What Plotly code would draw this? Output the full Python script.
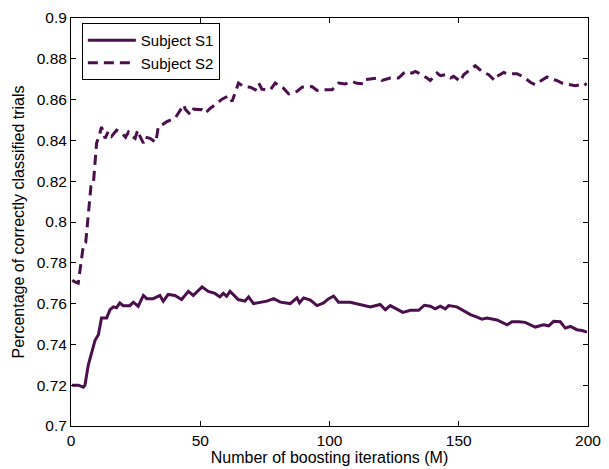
import plotly.graph_objects as go

# Subject S1 (solid)
s1_x = [0.4, 2.8, 4.8, 5.4, 6.7, 8.0, 9.3, 10.6, 11.8, 13.8, 15.1, 16.4, 17.6, 18.9, 20.2, 22.8,
        24.1, 26.0, 28.0, 29.3, 31.8, 34.4, 35.7, 37.6, 40.2, 42.8, 45.4, 47.3, 49.9, 50.7, 53.1,
        55.7, 57.6, 58.9, 60.2, 61.5, 62.8, 64.7, 67.3, 68.7, 70.6, 73.2, 75.8, 78.4, 81.0, 84.8,
        87.4, 88.4, 90.0, 92.6, 95.2, 97.7, 99.7, 101.6, 103.5, 108.0, 111.9, 115.8, 119.6, 121.6,
        123.5, 126.1, 128.4, 131.3, 134.5, 136.7, 139.0, 140.9, 142.9, 144.8, 146.1, 149.3, 151.9,
        154.5, 157.1, 159.0, 160.9, 164.8, 168.7, 170.6, 173.2, 175.7, 179.6, 182.8, 184.8, 186.7,
        189.3, 191.2, 193.2, 195.7, 197.7, 199.6]
s1_y = [0.720, 0.720, 0.719, 0.720, 0.730, 0.7365, 0.742, 0.7447, 0.753, 0.753, 0.757, 0.7584,
        0.758, 0.7603, 0.759, 0.759, 0.7607, 0.7587, 0.764, 0.7624, 0.7624, 0.764, 0.7612, 0.7645,
        0.764, 0.762, 0.766, 0.764, 0.767, 0.7682, 0.766, 0.765, 0.7633, 0.765, 0.7636, 0.766,
        0.7644, 0.762, 0.7612, 0.7633, 0.760, 0.7607, 0.7612, 0.7624, 0.7607, 0.760, 0.7628,
        0.7604, 0.7628, 0.7617, 0.759, 0.7603, 0.7624, 0.7637, 0.7607, 0.7607, 0.7596, 0.7584,
        0.7596, 0.757, 0.759, 0.7574, 0.7557, 0.7567, 0.7567, 0.7592, 0.7587, 0.7574, 0.7587,
        0.7574, 0.759, 0.7584, 0.7567, 0.7546, 0.7534, 0.7524, 0.7529, 0.752, 0.7496, 0.7511,
        0.7511, 0.7508, 0.7485, 0.7496, 0.7491, 0.7513, 0.7511, 0.748, 0.7488, 0.7472, 0.7468,
        0.746]

# Subject S2 (dashed)
s2_x = [0.5, 1.3, 2.8, 3.9, 4.8, 5.7, 6.7, 7.7, 8.6, 9.3, 9.9, 11.2, 11.8, 13.2, 14.4, 15.7, 17.6,
        19.6, 21.1, 22.2, 23.5, 24.8, 25.8, 26.7, 28.0, 28.6, 30.6, 32.8, 33.8, 35.7, 37.1, 40.3,
        43.6, 44.2, 46.2, 47.4, 50.7, 52.0, 53.9, 55.8, 58.4, 61.0, 62.3, 63.2, 64.8, 66.8, 69.4,
        71.3, 72.6, 73.9, 77.1, 79.0, 82.2, 84.2, 87.4, 89.4, 93.2, 95.2, 97.7, 101.0, 103.5,
        106.1, 108.7, 110.6, 113.2, 113.8, 119.0, 120.3, 123.5, 126.7, 128.7, 130.0, 131.9, 133.2,
        134.5, 137.7, 139.0, 141.6, 142.9, 144.8, 146.8, 148.0, 150.6, 151.9, 155.1, 156.4, 159.0,
        161.6, 163.8, 164.8, 167.4, 168.7, 172.5, 175.1, 177.7, 179.6, 180.9, 184.1, 185.4, 187.9,
        189.9, 193.2, 195.1, 197.1, 198.4, 199.5]
s2_y = [0.7715, 0.7707, 0.770, 0.7797, 0.7887, 0.790, 0.806, 0.8174, 0.818, 0.832, 0.8387, 0.8436,
        0.8466, 0.841, 0.8444, 0.842, 0.845, 0.8436, 0.8416, 0.844, 0.842, 0.841, 0.845, 0.842,
        0.8387, 0.8416, 0.841, 0.839, 0.8469, 0.848, 0.8492, 0.8509, 0.8574, 0.8553, 0.8525,
        0.8553, 0.855, 0.8534, 0.8558, 0.8574, 0.8602, 0.8619, 0.8591, 0.8623, 0.8681, 0.8664,
        0.8661, 0.8648, 0.8681, 0.8651, 0.8648, 0.8681, 0.8656, 0.8628, 0.864, 0.8661, 0.8664,
        0.8645, 0.8648, 0.8648, 0.8681, 0.8677, 0.8689, 0.868, 0.8678, 0.8698, 0.8706, 0.8694,
        0.8706, 0.8706, 0.873, 0.8738, 0.873, 0.8738, 0.873, 0.8706, 0.8694, 0.873, 0.8717,
        0.8722, 0.8706, 0.8714, 0.8689, 0.8722, 0.8754, 0.8766, 0.8738, 0.8722, 0.8694, 0.8714,
        0.8733, 0.8727, 0.8727, 0.8711, 0.8685, 0.8673, 0.8685, 0.8711, 0.8701, 0.8694, 0.8681,
        0.8673, 0.8668, 0.8673, 0.8681, 0.8672]

x_ticks = [0, 50, 100, 150, 200]
y_ticks = [0.7, 0.72, 0.74, 0.76, 0.78, 0.8, 0.82, 0.84, 0.86, 0.88, 0.9]
y_tick_text = ["0.7", "0.72", "0.74", "0.76", "0.78", "0.8", "0.82", "0.84", "0.86", "0.88", "0.9"]

color = "#4a0f4c"
font = "Liberation Sans, Arial, sans-serif"

fig = go.Figure()
fig.add_trace(go.Scatter(x=s1_x, y=s1_y, mode="lines", name="Subject S1",
                         line=dict(color=color, width=3)))
fig.add_trace(go.Scatter(x=s2_x, y=s2_y, mode="lines", name="Subject S2",
                         line=dict(color=color, width=3, dash="10px,6px")))

axis_common = dict(showline=True, linecolor="black", linewidth=1, mirror="ticks",
                   ticks="inside", ticklen=5, tickcolor="black", tickwidth=1,
                   showgrid=False, zeroline=False, automargin=False,
                   tickfont=dict(family=font, size=15.5, color="black"))

fig.update_layout(
    width=609, height=469,
    margin=dict(l=71, r=21, t=18, b=43),
    paper_bgcolor="white", plot_bgcolor="white",
    font=dict(family=font, size=15.5, color="black"),
    xaxis=dict(range=[0, 200], tickvals=x_ticks,
               title=dict(text="Number of boosting iterations (M)", standoff=3,
                          font=dict(family=font, size=16)),
               **axis_common),
    yaxis=dict(range=[0.7, 0.9], tickvals=y_ticks, ticktext=y_tick_text,
               title=dict(text="Percentage of correctly classified trials", standoff=8,
                          font=dict(family=font, size=16)),
               **axis_common),
    legend=dict(x=0.021, y=0.988, xanchor="left", yanchor="top",
                bgcolor="white", bordercolor="black", borderwidth=1,
                font=dict(family=font, size=15, color="black"),
                tracegroupgap=0, itemwidth=48),
    showlegend=True,
)

fig.write_html("out.html", config={"displayModeBar": False},
               post_script="document.body.style.margin='0px';")
